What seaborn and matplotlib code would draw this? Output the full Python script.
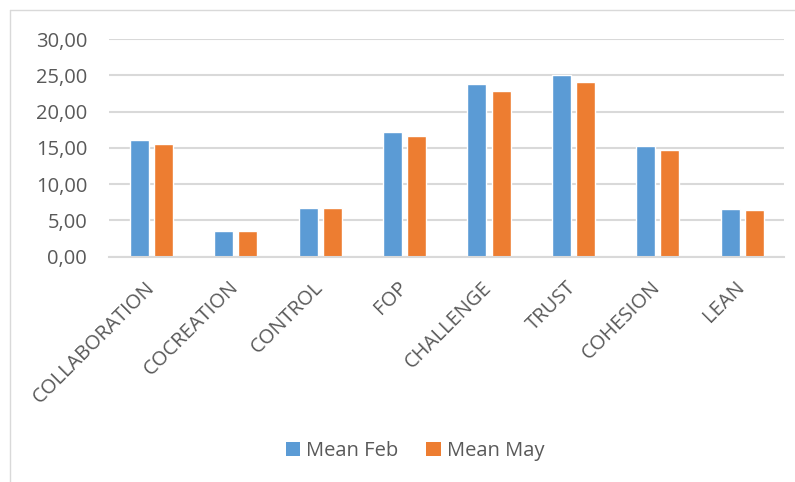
import matplotlib
matplotlib.use("Agg")
import matplotlib.pyplot as plt
from matplotlib.lines import Line2D
from matplotlib.patches import Patch
import seaborn as sns
import pandas as pd

categories = ["COLLABORATION", "COCREATION", "CONTROL", "FOP", "CHALLENGE",
              "TRUST", "COHESION", "LEAN"]
mean_feb = [16.07, 3.49, 6.67, 17.13, 23.83, 24.98, 15.20, 6.57]
mean_may = [15.48, 3.50, 6.67, 16.58, 22.87, 24.02, 14.65, 6.43]
series_names = ["Mean Feb", "Mean May"]
yticks = [0, 5, 10, 15, 20, 25, 30]

df = pd.DataFrame({
    "category": categories * 2,
    "value": mean_feb + mean_may,
    "series": [series_names[0]] * len(categories) + [series_names[1]] * len(categories),
})

sns.set_style("white")
plt.rcParams["font.family"] = ["Open Sans", "DejaVu Sans"]
text_color = "#595959"
colors = ["#5B9BD5", "#ED7D31"]

fig = plt.figure(figsize=(7.95, 4.82), dpi=100)
W, H = 795, 482
ax = fig.add_axes([109.3 / W, 1 - 256.7 / H, 675 / W, (256.7 - 39) / H])

sns.barplot(data=df, x="category", y="value", hue="series", order=categories,
            hue_order=series_names, palette=colors, width=0.57, gap=0.21,
            ax=ax, legend=False, saturation=1)

ax.set_ylim(0, 30)
ax.set_xlim(-0.5, len(categories) - 0.5)
ax.set_yticks(yticks)
ax.set_yticklabels([f"{v:.2f}".replace(".", ",") for v in yticks],
                   fontsize=14.5, color=text_color)
ax.yaxis.grid(True, color="#D9D9D9", linewidth=1.5)
ax.set_axisbelow(True)
ax.tick_params(axis="y", length=0, pad=16)
ax.tick_params(axis="x", length=0, pad=20)
ax.set_xticks(range(len(categories)))
ax.set_xticklabels(categories, rotation=45, ha="right", va="center",
                   rotation_mode="anchor", fontsize=14.5, color=text_color)
ax.set_xlabel("")
ax.set_ylabel("")
for s in ["top", "right", "left"]:
    ax.spines[s].set_visible(False)
ax.spines["bottom"].set_color("#D9D9D9")
ax.spines["bottom"].set_linewidth(1.5)

handles = [Patch(facecolor=c, edgecolor="none") for c in colors]
fig.legend(handles, series_names, loc="center", bbox_to_anchor=(415 / W, 1 - 451 / H),
           ncol=2, frameon=False, fontsize=14.5, labelcolor=text_color,
           handlelength=0.7, handleheight=0.7, handletextpad=0.3, columnspacing=1.4)

# chart area border (left and top)
fig.add_artist(Line2D([10 / W, 10 / W], [0, 1 - 10 / H], color="#D9D9D9", linewidth=1,
                      transform=fig.transFigure))
fig.add_artist(Line2D([10 / W, 1], [1 - 10 / H, 1 - 10 / H], color="#D9D9D9", linewidth=1,
                      transform=fig.transFigure))

fig.savefig("out.png", dpi=100, facecolor="white")
